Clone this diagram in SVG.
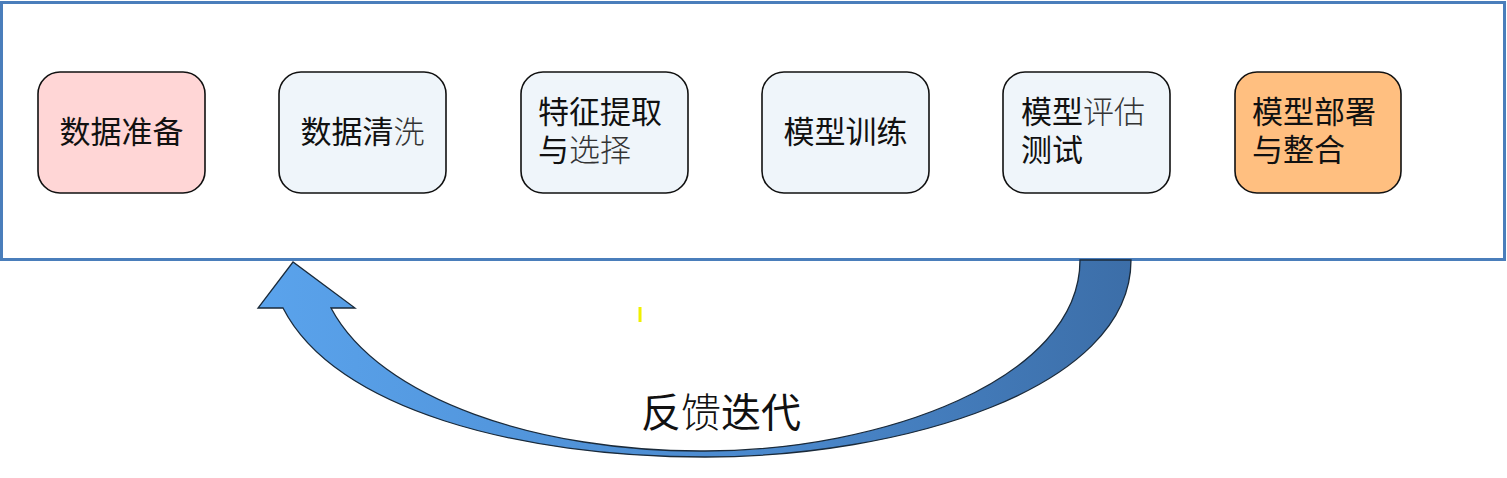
<svg xmlns="http://www.w3.org/2000/svg" width="1507" height="478" viewBox="0 0 1507 478">
<style>
.box{stroke:#111;stroke-width:1.6}
.t{font-family:"Noto Sans CJK SC","Liberation Sans",sans-serif;font-size:31px;fill:#111}
.l{font-weight:300;fill:#333}
</style>
<defs>
<linearGradient id="ag" x1="0" y1="0" x2="1" y2="0">
<stop offset="0" stop-color="#5aa3ec"/>
<stop offset="0.6" stop-color="#4a88cc"/>
<stop offset="1" stop-color="#3c6ea8"/>
</linearGradient>
</defs>
<rect x="1.5" y="2.5" width="1503" height="257" fill="#fff" stroke="#4a7ebb" stroke-width="3"/>
<g id="n1"><rect class="box" x="38" y="72" width="167" height="121" rx="22" fill="#ffd6d6"/><text class="t" x="121.5" y="143" text-anchor="middle">数据准备</text></g>
<g id="n2"><rect class="box" x="279" y="72" width="167" height="121" rx="22" fill="#eff5fa"/><text class="t" x="362.5" y="143" text-anchor="middle">数据清<tspan class="l">洗</tspan></text></g>
<g id="n3"><rect class="box" x="521" y="72" width="167" height="121" rx="22" fill="#eff5fa"/><text class="t" x="538" y="123">特征提取</text><text class="t" x="538" y="161">与<tspan class="l">选择</tspan></text></g>
<g id="n4"><rect class="box" x="762" y="72" width="167" height="121" rx="22" fill="#eff5fa"/><text class="t" x="845.5" y="143" text-anchor="middle">模型训练</text></g>
<g id="n5"><rect class="box" x="1003" y="72" width="167" height="121" rx="22" fill="#eff5fa"/><text class="t" x="1021" y="123">模型<tspan class="l">评估</tspan></text><text class="t" x="1021" y="161">测试</text></g>
<g id="n6"><rect class="box" x="1235" y="72" width="166" height="121" rx="22" fill="#ffbf80"/><text class="t" x="1252" y="123">模型部署</text><text class="t" x="1252" y="161">与整合</text></g>
<g id="connectors">
<path d="M1131 260 C1131 390 900 457 705 457 C520 457 335 410 283 308 L258 308 L293 262 L355 308 L331 308 C380 400 540 452 705 451 C880 451 1080 380 1080 260 Z" fill="url(#ag)" stroke="#1a2a3a" stroke-width="1.3" stroke-linejoin="miter"/>
<text x="721" y="427" text-anchor="middle" font-family="Noto Sans CJK SC,Liberation Sans,sans-serif" font-size="40" fill="#111">反<tspan font-weight="300">馈</tspan>迭代</text>
</g>
<rect x="638.5" y="307" width="3" height="15" fill="#f0f000"/>
</svg>
